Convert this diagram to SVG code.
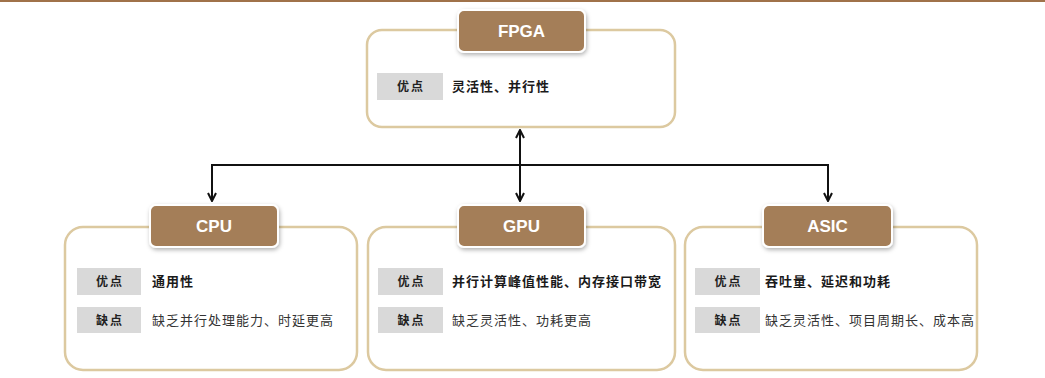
<svg xmlns="http://www.w3.org/2000/svg" width="1045" height="378" viewBox="0 0 1045 378">
<defs>
<style>
.outer{fill:#ffffff;stroke:#dcc9a0;stroke-width:2.5}
.title{fill:#a47e58;stroke:#ffffff;stroke-width:2;filter:url(#sh)}
.ttext{font-family:"Liberation Sans",Arial,sans-serif;font-weight:bold;font-size:17px;fill:#ffffff;text-anchor:middle}
.tag{fill:#d9d9d9}
.tagt{font-family:"Noto Sans CJK SC",sans-serif;font-size:12px;font-weight:bold;fill:#222;text-anchor:middle;letter-spacing:2px}
.pro{font-family:"Noto Sans CJK SC",sans-serif;font-size:13px;font-weight:bold;fill:#1a1a1a;letter-spacing:1px}
.con{font-family:"Noto Sans CJK SC",sans-serif;font-size:13px;fill:#333;letter-spacing:1px}
.line{fill:none;stroke:#111;stroke-width:2}
</style>
<filter id="sh" x="-20%" y="-30%" width="140%" height="160%">
<feDropShadow dx="1" dy="2" stdDeviation="2" flood-color="#000" flood-opacity="0.3"/>
</filter>
<marker id="ah" viewBox="0 0 10 10" refX="9" refY="5" markerWidth="10" markerHeight="10" markerUnits="userSpaceOnUse" orient="auto-start-reverse">
<path d="M1,1 L9,5 L1,9" fill="none" stroke="#111" stroke-width="2"/>
</marker>
</defs>
<rect x="0" y="0" width="1045" height="378" fill="#ffffff"/>
<line x1="0" y1="1" x2="1045" y2="1" stroke="#a0724a" stroke-width="2"/>

<g id="connectors">
<line class="line" x1="520" y1="130" x2="520" y2="201" marker-start="url(#ah)" marker-end="url(#ah)"/>
<polyline class="line" points="212,201 212,165 828,165 828,201" marker-start="url(#ah)" marker-end="url(#ah)"/>
</g>

<g id="fpga">
<rect class="outer" x="367" y="30" width="308" height="97" rx="15"/>
<rect class="title" x="458" y="10" width="127" height="42" rx="6"/>
<text class="ttext" x="521.5" y="37">FPGA</text>
<rect class="tag" x="377" y="73" width="66" height="27"/>
<text class="tagt" x="411" y="91">优点</text>
<text class="pro" x="452" y="91">灵活性、并行性</text>
</g>

<g id="cpu">
<rect class="outer" x="65" y="227" width="292" height="143" rx="18"/>
<rect class="title" x="150" y="205" width="128" height="42" rx="6"/>
<text class="ttext" x="214" y="232">CPU</text>
<rect class="tag" x="77" y="268" width="64" height="27"/>
<text class="tagt" x="110" y="286">优点</text>
<text class="pro" x="152" y="286">通用性</text>
<rect class="tag" x="77" y="307" width="64" height="26"/>
<text class="tagt" x="110" y="325">缺点</text>
<text class="con" x="152" y="325">缺乏并行处理能力、时延更高</text>
</g>

<g id="gpu">
<rect class="outer" x="368" y="227" width="307" height="143" rx="18"/>
<rect class="title" x="458" y="205" width="127" height="42" rx="6"/>
<text class="ttext" x="521.5" y="232">GPU</text>
<rect class="tag" x="378" y="268" width="65" height="27"/>
<text class="tagt" x="411.5" y="286">优点</text>
<text class="pro" x="452" y="286">并行计算峰值性能、内存接口带宽</text>
<rect class="tag" x="378" y="307" width="65" height="26"/>
<text class="tagt" x="411.5" y="325">缺点</text>
<text class="con" x="452" y="325">缺乏灵活性、功耗更高</text>
</g>

<g id="asic">
<rect class="outer" x="685" y="227" width="292" height="143" rx="18"/>
<rect class="title" x="763" y="205" width="129" height="42" rx="6"/>
<text class="ttext" x="827.5" y="232">ASIC</text>
<rect class="tag" x="695" y="268" width="65" height="27"/>
<text class="tagt" x="728.5" y="286">优点</text>
<text class="pro" x="765" y="286">吞吐量、延迟和功耗</text>
<rect class="tag" x="695" y="307" width="65" height="26"/>
<text class="tagt" x="728.5" y="325">缺点</text>
<text class="con" x="765" y="325">缺乏灵活性、项目周期长、成本高</text>
</g>
</svg>
